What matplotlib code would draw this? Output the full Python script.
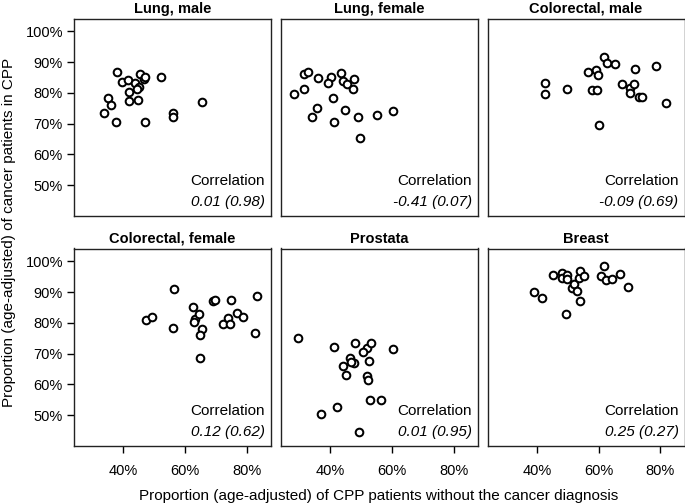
import matplotlib
matplotlib.use("Agg")
import matplotlib.pyplot as plt
from matplotlib.ticker import FixedLocator, FuncFormatter

plt.rcParams['font.family'] = ['Liberation Sans', 'DejaVu Sans']

panel_titles = ["Lung, male", "Lung, female", "Colorectal, male",
                "Colorectal, female", "Prostata", "Breast"]

lung_male_x = [37.9, 39.6, 41.4, 43.9, 45.4, 46.6, 47.0, 45.2, 44.3, 41.7, 34.9,
               36.0, 33.8, 41.9, 44.8, 37.6, 46.9, 52.1, 56.2, 56.2, 65.5]
lung_male_y = [86.8, 83.6, 84.1, 83.2, 86.3, 84.5, 85.2, 81.8, 81.4, 80.2, 78.5,
               76.0, 73.4, 77.5, 77.7, 70.5, 70.6, 85.1, 73.4, 72.3, 77.1]

lung_female_x = [31.5, 32.8, 35.9, 40.2, 39.3, 43.5, 44.2, 45.4, 47.5, 47.4, 31.3,
                 28.1, 40.7, 35.5, 34.0, 44.8, 41.1, 49.0, 55.1, 60.3, 49.5]
lung_female_y = [86.3, 86.8, 84.7, 85.2, 83.2, 86.4, 83.9, 82.9, 84.5, 81.4, 81.4,
                 79.8, 78.5, 75.1, 72.2, 74.6, 70.5, 72.1, 72.7, 74.1, 65.3]

colorectal_male_x = [42.5, 42.5, 49.6, 57.7, 59.5, 56.5, 59.1, 59.9, 61.8, 62.7, 65.3,
                     60.0, 67.5, 70.0, 70.0, 71.3, 71.8, 73.2, 74.0, 78.6, 81.7]
colorectal_male_y = [83.2, 79.8, 81.2, 81.0, 81.0, 86.8, 87.6, 85.8, 91.6, 89.7, 89.3,
                     69.7, 82.9, 81.6, 80.1, 82.9, 87.8, 78.6, 78.7, 88.8, 76.6]

colorectal_female_x = [47.3, 49.2, 56.2, 56.5, 62.5, 63.2, 62.8, 64.6, 65.5, 64.7, 64.7,
                       69.0, 69.7, 72.2, 73.8, 74.6, 75.0, 76.7, 78.7, 82.7, 83.3]
colorectal_female_y = [80.8, 81.8, 78.3, 91.0, 85.1, 81.3, 80.4, 82.8, 78.1, 76.0, 68.5,
                       87.1, 87.6, 79.8, 81.6, 79.7, 87.6, 83.3, 81.8, 76.6, 88.8]

prostata_x = [29.4, 41.3, 48.1, 51.8, 53.3, 50.6, 46.2, 44.2, 47.5, 52.5,
              45.2, 51.7, 52.3, 60.3, 52.7, 56.5, 42.0, 36.8, 49.3, 46.8]
prostata_y = [75.1, 72.2, 73.4, 72.0, 73.4, 70.4, 68.6, 66.0, 67.1, 67.6,
              63.0, 62.7, 61.5, 71.5, 55.1, 55.1, 52.6, 50.4, 44.6, 67.3]

breast_x = [39.2, 41.5, 45.3, 48.1, 48.1, 49.8, 49.8, 51.5, 52.1, 53.0, 53.6,
            54.1, 55.2, 54.1, 49.4, 60.6, 61.8, 62.3, 64.3, 66.9, 69.4]
breast_y = [90.2, 88.2, 95.5, 96.1, 94.6, 95.5, 94.2, 91.4, 92.8, 90.4, 94.5,
            96.9, 95.1, 87.0, 82.8, 95.1, 98.6, 93.8, 94.3, 95.9, 91.7]

correlations = ["0.01 (0.98)", "-0.41 (0.07)", "-0.09 (0.69)",
                "0.12 (0.62)", "0.01 (0.95)", "0.25 (0.27)"]

x_ticks = [40, 60, 80]
y_ticks = [50, 60, 70, 80, 90, 100]

series = [(lung_male_x, lung_male_y), (lung_female_x, lung_female_y),
          (colorectal_male_x, colorectal_male_y),
          (colorectal_female_x, colorectal_female_y),
          (prostata_x, prostata_y), (breast_x, breast_y)]

W, H = 685, 504
fig = plt.figure(figsize=(W / 100, H / 100), dpi=100)

lefts = [74, 281, 487.5]
width = 197
tops = [18.5, 248.5]
height = 197.5

pct = FuncFormatter(lambda v, p: f"{v:.0f}%")

for i, (xs, ys) in enumerate(series):
    r, c = divmod(i, 3)
    ax = fig.add_axes([lefts[c] / W, 1 - (tops[r] + height) / H, width / W, height / H])
    ax.plot(xs, ys, linestyle='none', marker='o', markersize=5.5,
            markerfacecolor='white', markeredgecolor='black', markeredgewidth=1.45)
    ax.set_xlim(24.0, 87.8)
    ax.set_ylim(40.0, 104.2)
    ax.xaxis.set_major_locator(FixedLocator(x_ticks))
    ax.yaxis.set_major_locator(FixedLocator(y_ticks))
    ax.xaxis.set_major_formatter(pct)
    ax.yaxis.set_major_formatter(pct)
    ax.tick_params(direction='out', length=5, width=1, labelsize=10.5,
                   color='black', pad=3)
    for s in ax.spines.values():
        s.set_color('#222222')
        s.set_linewidth(1.0)
    if r == 0:
        ax.tick_params(axis='x', bottom=False, labelbottom=False)
    else:
        ax.tick_params(axis='x', pad=8)
    if c != 0:
        ax.tick_params(axis='y', left=False, labelleft=False)
    ax.set_title(panel_titles[i], fontsize=10.5, fontweight='bold', pad=4)
    ax.text(0.97, 0.175, "Correlation", transform=ax.transAxes,
            ha='right', va='center', fontsize=11)
    ax.text(0.97, 0.073, correlations[i], transform=ax.transAxes,
            ha='right', va='center', fontsize=11, style='italic')

fig.text(379 / W, 1 - 496 / H, "Proportion (age-adjusted) of CPP patients without the cancer diagnosis",
         ha='center', va='center', fontsize=11)
fig.text(9 / W, 1 - 232 / H, "Proportion (age-adjusted) of cancer patients in CPP",
         ha='center', va='center', rotation=90, fontsize=11)

fig.savefig("out.png", dpi=100)
